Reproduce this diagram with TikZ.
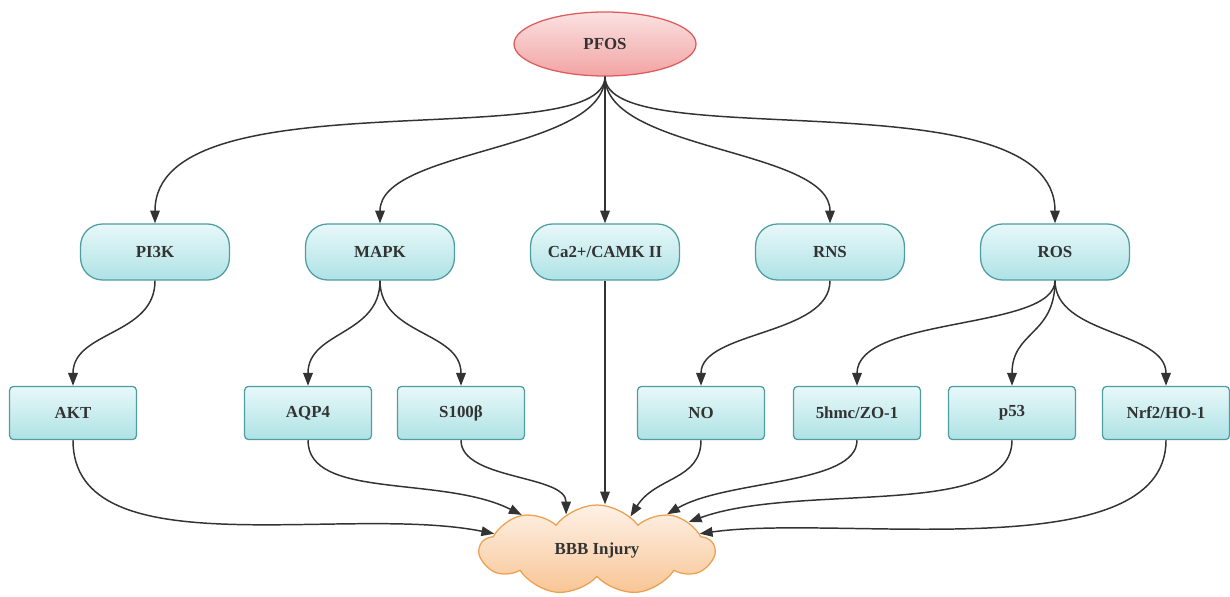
\documentclass[tikz,border=0pt]{standalone}
\usepackage{fontspec}
\setmainfont{Liberation Serif}
\usetikzlibrary{shapes.geometric,shapes.symbols,arrows.meta}

\definecolor{pillline}{HTML}{4E9DA1}
\definecolor{pilltop}{HTML}{E8F8F9}
\definecolor{pillbot}{HTML}{AEE2E5}
\definecolor{pfosline}{HTML}{DF5A5C}
\definecolor{pfostop}{HTML}{FBE2E2}
\definecolor{pfosbot}{HTML}{F2A3A3}
\definecolor{cloudline}{HTML}{EDA04E}
\definecolor{cloudtop}{HTML}{FEF1E6}
\definecolor{cloudbot}{HTML}{F8C595}
\definecolor{arrowcol}{HTML}{333333}
\definecolor{labelcol}{HTML}{333333}

\begin{document}
\begin{tikzpicture}[x=0.025cm, y=0.025cm,
    source/.style={ellipse, draw=pfosline, line width=0.9pt, top color=pfostop, bottom color=pfosbot, minimum width=4.55cm, minimum height=1.6cm, font=\fontsize{12}{14}\selectfont\bfseries, text=labelcol},
    pathway/.style={rectangle, rounded corners=0.55cm, draw=pillline, line width=0.9pt, top color=pilltop, bottom color=pillbot, minimum width=3.72cm, minimum height=1.4cm, font=\fontsize{12}{14}\selectfont\bfseries, text=labelcol},
    marker/.style={rectangle, rounded corners=0.1cm, draw=pillline, line width=0.9pt, top color=pilltop, bottom color=pillbot, minimum width=3.17cm, minimum height=1.33cm, font=\fontsize{12}{14}\selectfont\bfseries, text=labelcol},
    injury/.style={cloud, cloud puffs=9, cloud puff arc=105, aspect=2.5, draw=cloudline, line width=0.9pt, top color=cloudtop, bottom color=cloudbot, minimum width=5.85cm, minimum height=2.25cm, font=\fontsize{12}{14}\selectfont\bfseries, text=labelcol},
    edge/.style={draw=arrowcol, line width=1.05pt, -{Triangle[length=3.2mm,width=2.4mm]}}
]
\useasboundingbox (0,0) rectangle (1230,-597);

% Define vertices
\node[source] (pfos) at (605,-44) {PFOS};

\node[pathway] (pi3k) at (155,-252) {PI3K};
\node[pathway] (mapk) at (380,-252) {MAPK};
\node[pathway] (camk) at (605,-252) {Ca2+/CAMK II};
\node[pathway] (rns) at (830,-252) {RNS};
\node[pathway] (ros) at (1055,-252) {ROS};

\node[marker] (akt) at (73,-413) {AKT};
\node[marker] (aqp4) at (308,-413) {AQP4};
\node[marker] (s100) at (461,-413) {S100β};
\node[marker] (no) at (701,-413) {NO};
\node[marker] (zo1) at (857,-413) {5hmc/ZO-1};
\node[marker] (p53) at (1012,-413) {p53};
\node[marker] (nrf2) at (1166,-413) {Nrf2/HO-1};

\node[injury] (bbb) at (597,-550) {BBB Injury};

% Define edges from PFOS
\path[edge] (pfos.south) .. controls +(0,-80) and +(0,150) .. (pi3k.north);
\path[edge] (pfos.south) .. controls +(0,-75) and +(0,75) .. (mapk.north);
\path[edge] (pfos.south) -- (camk.north);
\path[edge] (pfos.south) .. controls +(0,-75) and +(0,75) .. (rns.north);
\path[edge] (pfos.south) .. controls +(0,-80) and +(0,150) .. (ros.north);

% Define edges to the markers
\path[edge] (pi3k.south) .. controls +(0,-55) and +(0,55) .. (akt.north);
\path[edge] (mapk.south) .. controls +(0,-55) and +(0,55) .. (aqp4.north);
\path[edge] (mapk.south) .. controls +(0,-55) and +(0,55) .. (s100.north);
\path[edge] (rns.south) .. controls +(0,-55) and +(0,55) .. (no.north);
\path[edge] (ros.south) .. controls +(0,-50) and +(0,70) .. (zo1.north);
\path[edge] (ros.south) .. controls +(0,-55) and +(0,55) .. (p53.north);
\path[edge] (ros.south) .. controls +(0,-55) and +(0,55) .. (nrf2.north);

% Define edges to BBB injury
\path[edge] (akt.south) .. controls +(0,-130) and +(-150,30) .. (bbb.171);
\path[edge] (aqp4.south) .. controls +(0,-60) and +(-80,40) .. (bbb.155);
\path[edge] (s100.south) .. controls +(0,-40) and +(0,40) .. (bbb.131);
\path[edge] (camk.south) -- (camk.south |- bbb.north);
\path[edge] (no.south) .. controls +(0,-40) and +(25,40) .. (bbb.45);
\path[edge] (zo1.south) .. controls +(0,-45) and +(60,35) .. (bbb.27);
\path[edge] (p53.south) .. controls +(0,-80) and +(110,40) .. (bbb.17);
\path[edge] (nrf2.south) .. controls +(0,-130) and +(140,20) .. (bbb.9);

\end{tikzpicture}
\end{document}
